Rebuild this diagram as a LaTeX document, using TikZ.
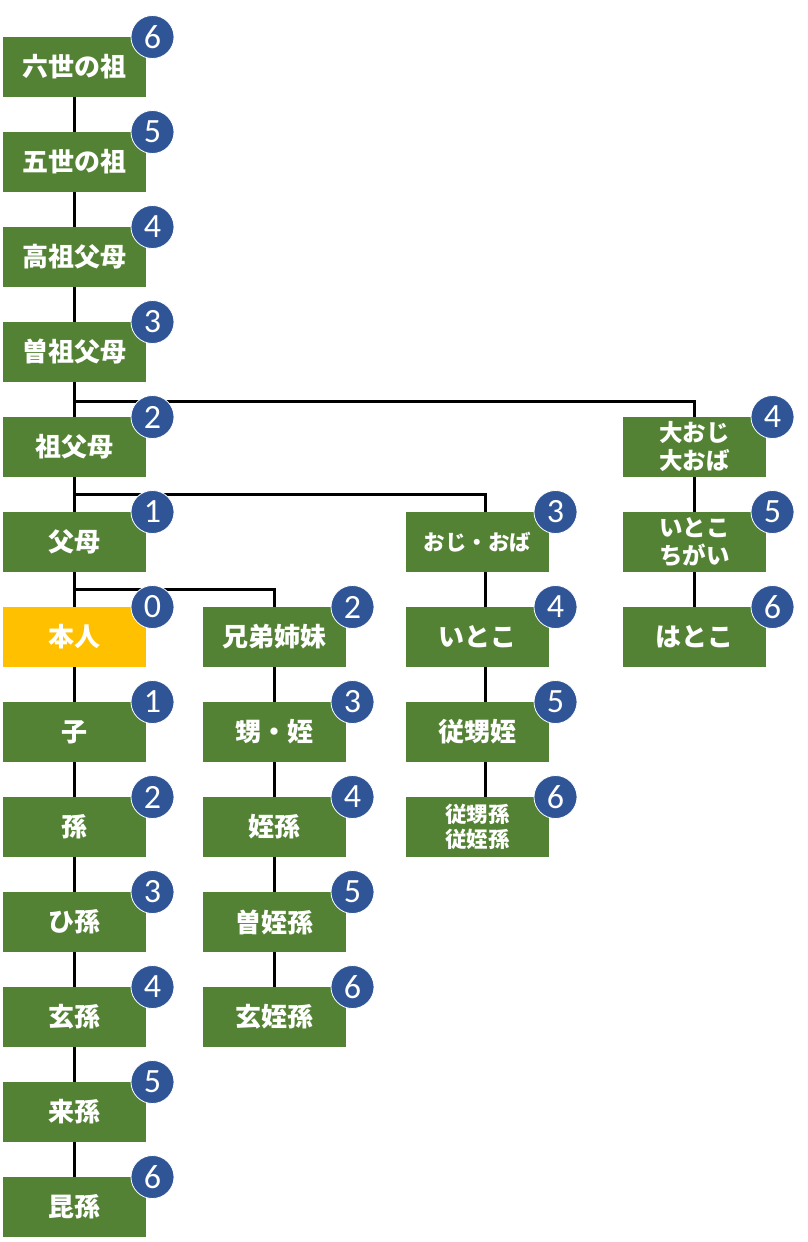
\documentclass[tikz,border=0pt]{standalone}
\usepackage{fontspec}
\setmainfont{Noto Sans CJK JP}
\newfontfamily\numfont{Carlito}
\usetikzlibrary{positioning, calc}
\definecolor{boxgreen}{HTML}{548235}
\definecolor{selfyellow}{HTML}{FFC000}
\definecolor{badgeblue}{HTML}{2F5597}

\begin{document}
\begin{tikzpicture}[x=1pt, y=1pt,
  node distance=35pt and 57pt,
  rel/.style={rectangle, fill=boxgreen, text=white, minimum width=143pt, minimum height=60pt,
    inner sep=0pt, outer sep=0pt, align=center, font=\fontsize{26}{30}\selectfont\bfseries},
  small/.style={font=\fontsize{21.5}{25}\selectfont\bfseries},
  twoline/.style={font=\fontsize{23.5}{28}\selectfont\bfseries},
  badge/.style={circle, fill=badgeblue, draw=white, line width=0.8pt, minimum size=43pt,
    inner sep=0pt, text=white, font=\fontsize{34}{34}\selectfont\numfont},
  link/.style={line width=3pt, black}]

  \useasboundingbox (0,0) rectangle (808,-1242);

  % lineal line
  \node[rel] (rokusei) at (74.5,-67) {六世の祖};
  \node[rel, below=of rokusei] (gosei) {五世の祖};
  \node[rel, below=of gosei] (koso) {高祖父母};
  \node[rel, below=of koso] (sosofubo) {曽祖父母};
  \node[rel, below=of sosofubo] (sofubo) {祖父母};
  \node[rel, below=of sofubo] (fubo) {父母};
  \node[rel, fill=selfyellow, below=of fubo] (honnin) {本人};
  \node[rel, below=of honnin] (ko) {子};
  \node[rel, below=of ko] (mago) {孫};
  \node[rel, below=of mago] (himago) {ひ孫};
  \node[rel, below=of himago] (genson) {玄孫};
  \node[rel, below=of genson] (raison) {来孫};
  \node[rel, below=of raison] (konson) {昆孫};

  % siblings
  \node[rel, right=of honnin] (kyodai) {兄弟姉妹};
  \node[rel, below=of kyodai] (oimei) {甥・姪};
  \node[rel, below=of oimei] (meison) {姪孫};
  \node[rel, below=of meison] (someison) {曽姪孫};
  \node[rel, below=of someison] (genmeison) {玄姪孫};

  % uncles and aunts
  \node[rel, small, right=260pt of fubo] (ojioba) {おじ・おば};
  \node[rel, below=of ojioba] (itoko) {いとこ};
  \node[rel, below=of itoko] (juseimei) {従甥姪};
  \node[rel, small, below=of juseimei] (juseison) {従甥孫\\従姪孫};

  % grand uncles and aunts
  \node[rel, twoline, right=477pt of sofubo] (ooji) {大おじ\\大おば};
  \node[rel, twoline, below=of ooji] (itokochigai) {いとこ\\ちがい};
  \node[rel, below=of itokochigai] (hatoko) {はとこ};

  \foreach \a/\b in {rokusei/gosei, gosei/koso, koso/sosofubo, sosofubo/sofubo, sofubo/fubo,
      fubo/honnin, honnin/ko, ko/mago, mago/himago, himago/genson, genson/raison, raison/konson,
      kyodai/oimei, oimei/meison, meison/someison, someison/genmeison,
      ooji/itokochigai, itokochigai/hatoko}
    \draw[link] (\a.south) -- (\b.north);
  \foreach \a/\b in {ojioba/itoko, itoko/juseimei, juseimei/juseison}
    \draw[link] ([xshift=8pt]\a.south) -- ([xshift=8pt]\b.north);

  \coordinate (br3) at ($(sosofubo.south)!.55!(sofubo.north)$);
  \coordinate (br2) at ($(sofubo.south)!.5!(fubo.north)$);
  \coordinate (br1) at ($(fubo.south)!.5!(honnin.north)$);
  \draw[link] (br3) -| (ooji.north);
  \draw[link] (br2) -| ([xshift=8pt]ojioba.north);
  \draw[link] (br1) -| (kyodai.north);

  % degrees of kinship
  \foreach \n/\d in {rokusei/6, gosei/5, koso/4, sosofubo/3, sofubo/2, fubo/1, honnin/0,
      ko/1, mago/2, himago/3, genson/4, raison/5, konson/6,
      kyodai/2, oimei/3, meison/4, someison/5, genmeison/6,
      ojioba/3, itoko/4, juseimei/5, juseison/6, ooji/4, itokochigai/5, hatoko/6}
    \node[badge] (\n-deg) at ([shift={(6.5pt,0pt)}]\n.north east) {\d};

\end{tikzpicture}
\end{document}
